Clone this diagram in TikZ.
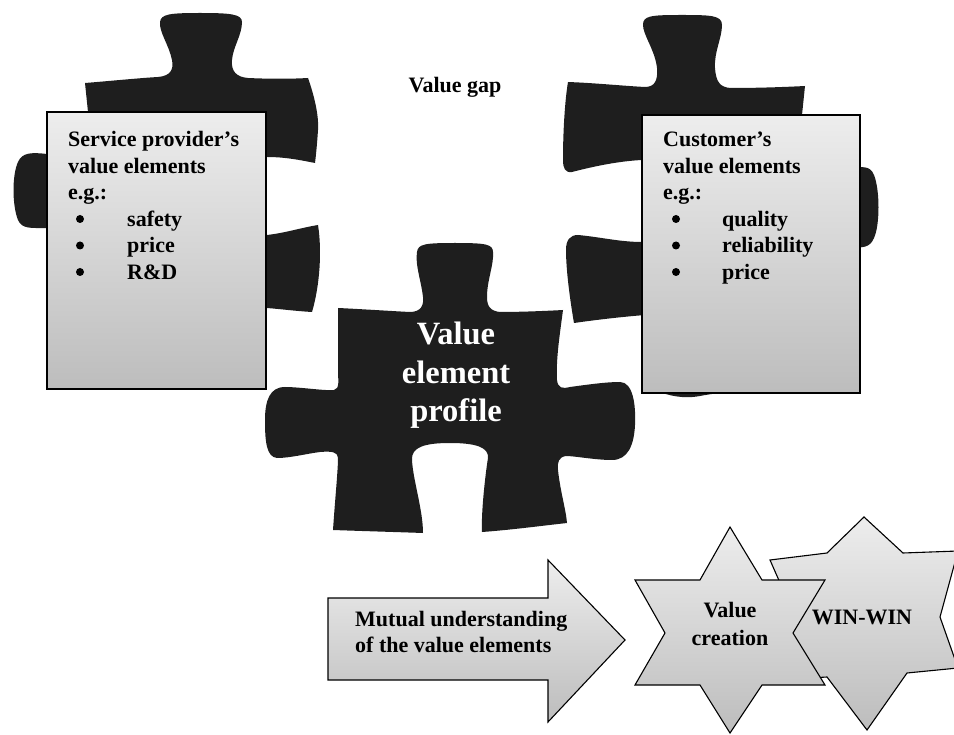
\documentclass[tikz,border=0pt]{standalone}
\usepackage{fontspec}
\setmainfont{Liberation Serif}
\begin{document}
\begin{tikzpicture}[x=1pt,y=-1pt,
  puzzle/.style={fill=piece},
  panel/.style={draw=black, line width=2pt, top color=gray!14, bottom color=gray!52},
  flat/.style={draw=black, line width=1.1pt, top color=gray!14, bottom color=gray!52, line join=miter},
  txt/.style={font=\bfseries\fontsize{22}{26.5}\selectfont, inner sep=0pt},
  dot/.style={circle, fill=black, minimum size=8pt, inner sep=0pt},
  bigtxt/.style={font=\bfseries\fontsize{32.5}{39}\selectfont, inner sep=0pt, text=white}]
\definecolor{piece}{RGB}{30,30,30}
\useasboundingbox (0,0) rectangle (954,735);
\clip (0,0) rectangle (954,735);

% left puzzle piece (knob on top, tab on the left, blank on the right)
\fill[puzzle] (85,83)
  .. controls (110,81) and (140,78) .. (158,77)
  .. controls (170,76) and (174,70) .. (172,60)
  .. controls (169,45) and (159,32) .. (160,22)
  .. controls (161,14) and (170,13) .. (200,13)
  .. controls (230,13) and (242,14) .. (242,22)
  .. controls (242,35) and (233,47) .. (232,60)
  .. controls (231,71) and (236,77) .. (248,78)
  .. controls (270,79) and (290,79) .. (308,78)
  .. controls (314,95) and (319,115) .. (318,130)
  .. controls (317,145) and (316,155) .. (315,163)
  .. controls (300,160) and (285,157) .. (267,157)
  .. controls (255,157) and (250,165) .. (250,180)
  -- (250,215)
  .. controls (250,230) and (255,236) .. (267,235)
  .. controls (285,233) and (300,228) .. (318,225)
  .. controls (322,250) and (320,285) .. (312,312)
  .. controls (295,311) and (280,309) .. (267,308)
  -- (95,308) -- (95,232)
  .. controls (80,231) and (60,228) .. (47,228)
  .. controls (30,228) and (22,229) .. (18,220)
  .. controls (12,205) and (12,175) .. (18,162)
  .. controls (22,153) and (30,152) .. (47,154)
  .. controls (60,155) and (80,156) .. (92,156)
  -- (88,112) -- cycle;

% right puzzle piece (knob on top, tab on the right, blank on the left)
\fill[puzzle] (568,82)
  .. controls (595,83) and (625,86) .. (645,87)
  .. controls (655,87) and (658,80) .. (657,68)
  .. controls (655,50) and (643,35) .. (643,25)
  .. controls (643,16) and (650,15) .. (680,15)
  .. controls (710,15) and (722,15) .. (722,25)
  .. controls (722,38) and (714,52) .. (715,68)
  .. controls (716,82) and (720,87) .. (730,88)
  .. controls (760,88) and (785,87) .. (805,86)
  -- (802,115) -- (850,125) -- (850,168)
  .. controls (862,167) and (870,165) .. (874,175)
  .. controls (880,190) and (880,225) .. (874,238)
  .. controls (870,248) and (862,248) .. (850,247)
  -- (850,385)
  .. controls (760,388) and (720,392) .. (700,396)
  .. controls (690,398) and (675,398) .. (660,392)
  -- (645,388) -- (645,315)
  .. controls (620,317) and (595,320) .. (574,323)
  .. controls (570,300) and (566,270) .. (566,250)
  .. controls (566,240) and (570,235) .. (578,235)
  .. controls (600,237) and (620,242) .. (642,242)
  -- (655,242) -- (655,160) -- (642,160)
  .. controls (620,161) and (595,166) .. (572,172)
  .. controls (565,173) and (563,168) .. (563,160)
  .. controls (563,130) and (565,100) .. (568,82) -- cycle;

% central puzzle piece
\fill[puzzle] (338,308)
  .. controls (360,309) and (390,311) .. (410,312)
  .. controls (421,312) and (424,305) .. (423,297)
  .. controls (421,280) and (415,265) .. (417,252)
  .. controls (418,244) and (425,243) .. (455,243)
  .. controls (485,243) and (493,244) .. (493,252)
  .. controls (494,265) and (487,280) .. (487,297)
  .. controls (487,306) and (490,311) .. (500,312)
  .. controls (520,312) and (545,311) .. (563,310)
  .. controls (559,340) and (556,360) .. (557,380)
  .. controls (558,388) and (562,389) .. (570,387)
  .. controls (585,385) and (605,382) .. (620,382)
  .. controls (633,382) and (636,405) .. (635,425)
  .. controls (634,445) and (628,460) .. (612,460)
  .. controls (595,460) and (575,456) .. (566,456)
  .. controls (559,457) and (557,462) .. (558,470)
  .. controls (560,490) and (566,510) .. (567,523)
  .. controls (540,526) and (510,530) .. (482,532)
  .. controls (481,510) and (486,470) .. (488,458)
  .. controls (489,447) and (475,443) .. (450,443)
  .. controls (425,443) and (411,447) .. (412,460)
  .. controls (413,480) and (423,510) .. (423,533)
  .. controls (395,532) and (360,531) .. (333,530)
  .. controls (335,500) and (338,470) .. (338,458)
  .. controls (338,452) and (332,451) .. (320,452)
  .. controls (305,454) and (290,458) .. (277,458)
  .. controls (266,457) and (265,440) .. (265,420)
  .. controls (265,400) and (270,387) .. (285,387)
  .. controls (300,387) and (325,391) .. (334,390)
  .. controls (340,389) and (338,380) .. (338,370)
  -- cycle;

% value element panels
\path[panel] (47,112) rectangle (266,389);
\path[panel] (642,115) rectangle (860,393);

% texts
\node[txt] (gap) at (455,87) {Value gap};

\node[txt, anchor=base west] (sp1) at (68,147) {Service provider’s};
\node[txt, anchor=base west] (sp2) at (68,173.5) {value elements};
\node[txt, anchor=base west] (sp3) at (68,200) {e.g.:};
\node[dot] (spb1) at (80,219) {};
\node[dot] (spb2) at (80,245.5) {};
\node[dot] (spb3) at (80,272) {};
\node[txt, anchor=base west] (spi1) at (127,226.5) {safety};
\node[txt, anchor=base west] (spi2) at (127,253) {price};
\node[txt, anchor=base west] (spi3) at (127,279.5) {R\&D};

\node[txt, anchor=base west] (cu1) at (663,147) {Customer’s};
\node[txt, anchor=base west] (cu2) at (663,173.5) {value elements};
\node[txt, anchor=base west] (cu3) at (663,200) {e.g.:};
\node[dot] (cub1) at (676,219) {};
\node[dot] (cub2) at (676,245.5) {};
\node[dot] (cub3) at (676,272) {};
\node[txt, anchor=base west] (cui1) at (722,226.5) {quality};
\node[txt, anchor=base west] (cui2) at (722,253) {reliability};
\node[txt, anchor=base west] (cui3) at (722,279.5) {price};

\node[bigtxt, anchor=base] (vp1) at (456,345) {Value};
\node[bigtxt, anchor=base] (vp2) at (456,384) {element};
\node[bigtxt, anchor=base] (vp3) at (456,422) {profile};

% block arrow
\path[flat] (328,598) -- (548,598) -- (548,560) -- (625,640) -- (548,722)
  -- (548,680) -- (328,680) -- cycle;
\node[txt, anchor=base west] (mu1) at (355,626) {Mutual understanding};
\node[txt, anchor=base west] (mu2) at (355,652) {of the value elements};

% six-pointed stars
\path[flat] (864,517) -- (903,553) -- (958,551) -- (940,617) -- (958,668)
  -- (907,673) -- (867,730) -- (827,677) -- (775,680) -- (795,617)
  -- (770,560) -- (827,553) -- cycle;
\path[flat] (730,527) -- (762,580) -- (825,580) -- (793,633) -- (825,685)
  -- (762,685) -- (730,733) -- (700,685) -- (635,685) -- (665,633)
  -- (635,580) -- (700,580) -- cycle;
\node[txt, anchor=base] (vc1) at (730,617) {Value};
\node[txt, anchor=base] (vc2) at (730,645) {creation};
\node[txt, anchor=base] (ww) at (862,624) {WIN-WIN};
\end{tikzpicture}
\end{document}
